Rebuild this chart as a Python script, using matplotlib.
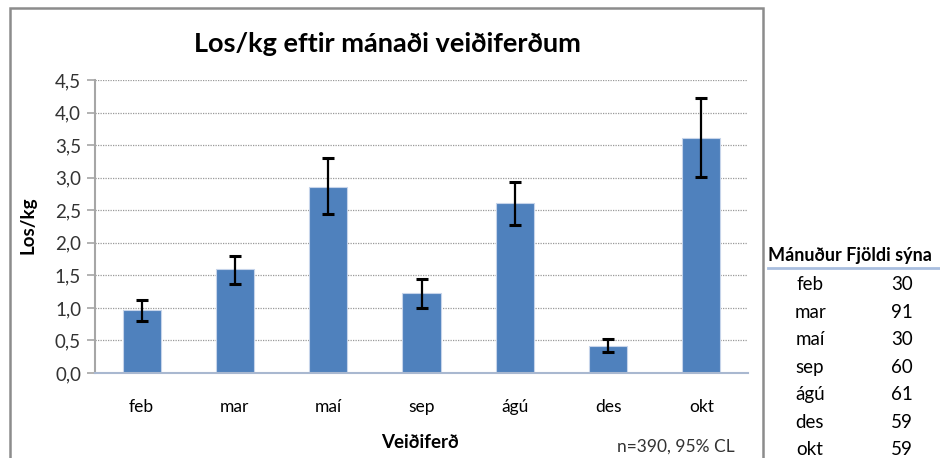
import numpy as np
import matplotlib
matplotlib.use("Agg")
import matplotlib.pyplot as plt
from matplotlib.patches import Rectangle
from matplotlib.lines import Line2D

plt.rcParams["font.family"] = ["Lato", "DejaVu Sans"]

# gögn
manudir = ["feb", "mar", "maí", "sep", "ágú", "des", "okt"]
los_kg = [0.97, 1.59, 2.86, 1.23, 2.61, 0.42, 3.61]
efri = [1.12, 1.80, 3.30, 1.44, 2.94, 0.52, 4.22]
nedri = [0.80, 1.37, 2.44, 1.00, 2.27, 0.33, 3.01]
fjoldi = [30, 91, 30, 60, 61, 59, 59]
y_ticks = [0.0, 0.5, 1.0, 1.5, 2.0, 2.5, 3.0, 3.5, 4.0, 4.5]

W, H = 940, 458
fig = plt.figure(figsize=(W / 100, H / 100), dpi=100)

# rammi utan um grafið
fig.patches.append(Rectangle((10 / W, -0.05), (763 - 10) / W, 1 - 8 / H + 0.05,
                             transform=fig.transFigure, fill=False,
                             edgecolor="#8c8c8c", linewidth=1.8))

ax = fig.add_axes([95 / W, 1 - 373 / H, (748 - 95) / W, (373 - 80) / H])
x = np.arange(len(manudir))
yerr = [np.array(los_kg) - np.array(nedri), np.array(efri) - np.array(los_kg)]
ax.bar(x, los_kg, width=0.41, color="#4f81bd", edgecolor="#c6d4ea",
       linewidth=0.8, zorder=2)
ax.errorbar(x, los_kg, yerr=yerr, fmt="none", ecolor="black", elinewidth=1.6,
            capsize=4, capthick=2.2, zorder=3)

ax.set_xlim(-0.5, len(manudir) - 0.5)
ax.set_ylim(0, 4.5)
ax.set_yticks(y_ticks)
ax.set_yticklabels([f"{v:.1f}".replace(".", ",") for v in y_ticks],
                   fontsize=13.5, color="#333333")
ax.set_xticks(x)
ax.set_xticklabels(manudir, fontsize=12.5, color="black")
ax.tick_params(axis="x", length=0, pad=19)
ax.tick_params(axis="y", length=6, width=1.2, color="#a6a6a6", pad=4)
ax.yaxis.grid(True, linestyle=(0, (1, 1)), color="#999999", linewidth=0.9)
ax.set_axisbelow(True)
for s in ["top", "right"]:
    ax.spines[s].set_visible(False)
ax.spines["left"].set_color("#a6a6a6")
ax.spines["left"].set_linewidth(1.5)
ax.spines["bottom"].set_color("#a9b8d0")
ax.spines["bottom"].set_linewidth(1.5)

fig.text(387 / W, 1 - 44 / H, "Los/kg eftir mánaði veiðiferðum",
         ha="center", va="center", fontsize=19.5, fontweight="bold")
fig.text(28 / W, 1 - 225 / H, "Los/kg", rotation=90, ha="center",
         va="center", fontsize=13.5, fontweight="bold")
fig.text(420 / W, 1 - 442 / H, "Veiðiferð", ha="center", va="center",
         fontsize=13.5, fontweight="bold")
fig.text(676 / W, 1 - 447 / H, "n=390, 95% CL", ha="center", va="center",
         fontsize=12.5, color="#333333")

# tafla til hægri
fig.text(768 / W, 1 - 255 / H, "Mánuður Fjöldi sýna", ha="left",
         va="center", fontsize=13, fontweight="bold")
fig.lines.append(Line2D([768 / W, 1.0], [1 - 268 / H] * 2,
                        transform=fig.transFigure, color="#a9bedf",
                        linewidth=2))
for i, (m, n) in enumerate(zip(manudir, fjoldi)):
    yy = 1 - (285 + i * 27.4) / H
    fig.text(810 / W, yy, m, ha="center", va="center", fontsize=13.5)
    fig.text(902 / W, yy, str(n), ha="center", va="center", fontsize=13.5)

fig.savefig("out.png", dpi=100)
